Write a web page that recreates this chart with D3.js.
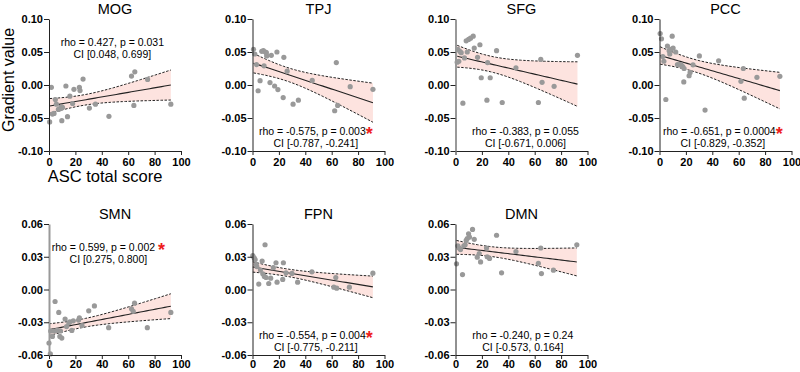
<!DOCTYPE html>
<html>
<head>
<meta charset="utf-8">
<script src="https://cdn.jsdelivr.net/npm/d3@7"></script>
<style>
  body { margin: 0; background: #fff; }
  svg { display: block; font-family: "Liberation Sans", Arial, sans-serif; }
  .tick text { font-weight: bold; font-size: 11px; fill: #000; }
</style>
</head>
<body>
<div id="chart"></div>
<script>
// ---- data ----
const xTicks = [0, 20, 40, 60, 80, 100];
const wideTicks = [-0.10, -0.05, 0, 0.05, 0.10];
const narrowTicks = [-0.06, -0.03, 0, 0.03, 0.06];

const regions = ['MOG', 'TPJ', 'SFG', 'PCC', 'SMN', 'FPN', 'DMN'];
const rhoValues = ['0.427', '-0.575', '-0.383', '-0.651', '0.599', '-0.554', '-0.240'];
const pValues = ['0.031', '0.003', '0.055', '0.0004', '0.002', '0.004', '0.24'];
const ciValues = ['[0.048, 0.699]', '[-0.787, -0.241]', '[-0.671, 0.006]', '[-0.829, -0.352]',
                  '[0.275, 0.800]', '[-0.775, -0.211]', '[-0.573, 0.164]'];
const significant = [false, true, false, true, true, true, false];

// [ASC total score, gradient value]
const mogPoints = [[0.5,-0.056],[1.8,-0.0035],[2.6,-0.044],[3.8,-0.043],[4.8,-0.022],[5.6,-0.029],
  [7.1,-0.037],[8.2,-0.036],[9.2,-0.033],[9.7,-0.054],[10.2,-0.034],[12.8,-0.0015],[14,-0.048],
  [15.8,-0.017],[17.9,-0.028],[18.9,-0.0065],[23,-0.0035],[23.5,-0.0085],[25.8,0.009],[30.6,-0.035],
  [35.2,-0.029],[45.4,-0.0475],[62.5,0.0135],[65,0.020],[64.3,-0.031],[74.7,0.0085],[92.3,-0.029]];
const tpjPoints = [[0.75,0.054],[1.75,0.047],[3,0.031],[4.25,-0.0087],[5.75,0.0066],[7,0.051],
  [8.25,0.052],[8.75,0.029],[9.75,0.050],[10.75,0.044],[10.5,0.049],[13.25,0.0036],[14.25,0.045],
  [16.75,-0.0015],[18.5,0.050],[19.25,-0.007],[23.25,-0.019],[23.75,0.042],[26.25,0.021],[30.75,-0.029],
  [34.75,-0.023],[45.25,0.007],[62.25,-0.039],[63.5,0.034],[64.5,-0.031],[74,-0.0025],[91.25,-0.0066]];
const sfgPoints = [[1.3,0.0346],[1.8,0.054],[2.5,0.036],[3.3,0.051],[4.3,0.049],[5.6,-0.0275],
  [6.8,0.041],[8.1,0.067],[8.9,0.050],[9.9,0.069],[11.4,0.071],[13.4,0.074],[14.2,0.056],[16.7,0.042],
  [18.5,0.061],[19.5,0.011],[23.8,-0.023],[24.3,0.034],[26.3,0.011],[31.1,0.052],[35.4,-0.0265],
  [45.8,0.026],[62.8,-0.0265],[64.6,0.0387],[65.6,0.004],[74.7,-0.002],[92.4,0.045]];
const pccPoints = [[0.5,0.078],[1.5,0.070],[2.5,0.043],[3.3,0.036],[4.8,-0.022],[6,0.059],
  [7.3,0.052],[7.8,0.047],[8.6,0.054],[9.6,0.074],[10.3,0.056],[12.3,0.050],[13.6,0.031],[15.1,0.031],
  [16.4,0.0305],[17.6,0.028],[18.4,0.0046],[18.6,0.025],[22.4,0.014],[23.2,0.019],[25.4,0.0305],
  [30.2,0.044],[34.5,-0.038],[44.8,0.0366],[61.7,0.0056],[63.5,0.025],[64.2,-0.020],[73.8,0.0117],[91.2,0.0132]];
const smnPoints = [[0,-0.049],[1,-0.059],[1.3,-0.038],[2.6,-0.043],[3.8,-0.038],[4.6,-0.011],
  [6.1,-0.0375],[7.4,-0.021],[8.2,-0.043],[9.7,-0.0445],[8.7,-0.038],[12.2,-0.027],[13.3,-0.034],
  [15,-0.0305],[15.8,-0.0296],[17.3,-0.0375],[18.4,-0.0287],[22.4,-0.028],[23,-0.026],[25,-0.033],
  [30.1,-0.0195],[34.4,-0.015],[45.2,-0.035],[62.5,-0.0177],[63.8,-0.020],[64.8,-0.0125],[74.5,-0.035],[92.3,-0.021]];
const fpnPoints = [[0.25,0.031],[1.25,0.029],[2,0.0275],[2.75,0.023],[3.25,0.021],[4.75,0.005],
  [6,0.0178],[7.3,0.026],[7.8,0.0144],[9,0.012],[9.5,0.041],[10.3,0.011],[12.3,0.0055],[13.8,0.0104],
  [15.8,0.020],[17.8,0.0245],[18.6,0.0067],[22.9,0.0092],[23.4,0.0245],[25.4,0.0153],[29.9,0.0147],
  [34.2,0.0067],[45,0.0162],[61.6,0.0021],[63.1,0.011],[63.8,0.0012],[73.4,0.0021],[91.2,0.015]];
const dmnPoints = [[0.75,0.0235],[1.8,0.040],[2.8,0.038],[3.8,0.0366],[5.3,0.0137],[6.3,0.040],
  [7.3,0.041],[8.1,0.045],[8.9,0.0467],[9.9,0.051],[10.6,0.048],[12.9,0.055],[14.2,0.046],[16.5,0.0296],
  [18,0.033],[19,0.0253],[23.5,0.038],[24,0.030],[25.8,0.0284],[31.1,0.0497],[34.9,0.0153],[45.8,0.0348],
  [62.8,0.024],[64.6,0.038],[65.1,0.0146],[74.2,0.0177],[91.9,0.041]];

const allPoints = [mogPoints, tpjPoints, sfgPoints, pccPoints, smnPoints, fpnPoints, dmnPoints];

class ScatterPanel {

    constructor(_svg, _points, _config = {}) {
        this.svg = _svg;
        this.points = _points;
        this.config = {
            left: _config.left,
            top: _config.top,
            width: _config.width || 132,
            height: _config.height || 132,
            yDomain: _config.yDomain,
            yTicks: _config.yTicks,
            title: _config.title,
            rho: _config.rho,
            p: _config.p,
            ci: _config.ci,
            star: _config.star,
            starGap: _config.starGap || '',
            statsAt: _config.statsAt || 'bottom',
            statsX: _config.statsX || 48,
            axisColor: _config.axisColor || '#222',
            axisWidth: _config.axisWidth || 1,
            tickPad: _config.tickPad || 3,
            tCrit: 2.06
        };
        this.initVis();
    }

    initVis() {
        let vis = this;
        let { left, top, width, height, yDomain } = vis.config;

        vis.chart = vis.svg.append('g')
            .attr('transform', `translate(${left},${top})`);

        vis.xScale = d3.scaleLinear().domain([0, 100]).range([0, width]);
        vis.yScale = d3.scaleLinear().domain(yDomain).range([height, 0]);

        vis.renderVis();
    }

    // least squares line + 95% band of the mean
    fit() {
        let vis = this;
        const n = vis.points.length;
        const xbar = d3.mean(vis.points, d => d[0]);
        const ybar = d3.mean(vis.points, d => d[1]);
        const sxx = d3.sum(vis.points, d => (d[0] - xbar) ** 2);
        const sxy = d3.sum(vis.points, d => (d[0] - xbar) * (d[1] - ybar));
        const slope = sxy / sxx;
        const intercept = ybar - slope * xbar;
        const sse = d3.sum(vis.points, d => (d[1] - intercept - slope * d[0]) ** 2);
        const s = Math.sqrt(sse / (n - 2));
        const [x0, x1] = d3.extent(vis.points, d => d[0]);
        return d3.range(0, 41).map(i => {
            const x = x0 + (x1 - x0) * i / 40;
            const yhat = intercept + slope * x;
            const half = vis.config.tCrit * s * Math.sqrt(1 / n + (x - xbar) ** 2 / sxx);
            return { x, yhat, lo: yhat - half, hi: yhat + half };
        });
    }

    renderVis() {
        let vis = this;
        let { width, height, yTicks, title, rho, p, ci, star, starGap, statsAt, statsX, axisColor, axisWidth, tickPad } = vis.config;
        const band = vis.fit();

        // Confidence band
        vis.chart.append('path')
            .datum(band)
            .attr('fill', '#fde3df')
            .attr('d', d3.area().x(d => vis.xScale(d.x)).y0(d => vis.yScale(d.lo)).y1(d => vis.yScale(d.hi)));

        ['lo', 'hi'].forEach(k => {
            vis.chart.append('path')
                .datum(band)
                .attr('fill', 'none')
                .attr('stroke', '#222')
                .attr('stroke-width', 1)
                .attr('stroke-dasharray', '2.5,1.5')
                .attr('d', d3.line().x(d => vis.xScale(d.x)).y(d => vis.yScale(d[k])));
        });

        vis.chart.append('path')
            .datum(band)
            .attr('fill', 'none')
            .attr('stroke', '#222')
            .attr('stroke-width', 1.1)
            .attr('d', d3.line().x(d => vis.xScale(d.x)).y(d => vis.yScale(d.yhat)));

        // Points
        vis.chart.selectAll('.dot')
            .data(vis.points)
            .join('circle')
            .attr('class', 'dot')
            .attr('cx', d => vis.xScale(d[0]))
            .attr('cy', d => vis.yScale(d[1]))
            .attr('r', 2.6)
            .attr('fill', '#999');

        // Axes
        const xAxis = vis.chart.append('g')
            .attr('transform', `translate(0,${height})`)
            .call(d3.axisBottom(vis.xScale).tickValues(xTicks).tickSize(4).tickSizeOuter(0).tickPadding(tickPad));
        xAxis.selectAll('path, line').attr('stroke', '#222');

        const yAxis = vis.chart.append('g')
            .call(d3.axisLeft(vis.yScale).tickValues(yTicks).tickSize(5).tickSizeOuter(0).tickPadding(1)
                .tickFormat(d => d.toFixed(2)));
        yAxis.select('.domain').attr('stroke', axisColor).attr('stroke-width', axisWidth);
        yAxis.selectAll('line').attr('stroke', '#222');
        vis.chart.selectAll('.tick text').attr('font-family', null).attr('font-size', null);

        // Title
        vis.chart.append('text')
            .attr('x', width / 2)
            .attr('y', -5)
            .attr('text-anchor', 'middle')
            .attr('font-size', 14.5)
            .text(title);

        // Stats
        const y1 = statsAt === 'top' ? 27 : height - 16;
        const rhoText = vis.chart.append('text')
            .attr('x', vis.xScale(statsX))
            .attr('y', y1)
            .attr('text-anchor', 'middle')
            .attr('font-size', 10.5)
            .text(`rho = ${rho}, p = ${p}${starGap}`);
        if (star) {
            rhoText.append('tspan')
                .attr('fill', '#ee1c1c')
                .attr('font-weight', 'bold')
                .attr('font-size', 18)
                .attr('dy', 5)
                .text('*');
        }
        vis.chart.append('text')
            .attr('x', vis.xScale(statsX))
            .attr('y', y1 + 11.5)
            .attr('text-anchor', 'middle')
            .attr('font-size', 10.5)
            .text(`CI ${ci}`);
    }
}

const svg = d3.select('#chart').append('svg')
    .attr('width', 800)
    .attr('height', 372);

const colLefts = [49, 252.5, 455.5, 659.5];
const rowTops = [19, 224];

regions.forEach((name, i) => {
    const row = i < 4 ? 0 : 1;
    const col = i < 4 ? i : i - 4;
    new ScatterPanel(svg, allPoints[i], {
        left: colLefts[col],
        top: rowTops[row],
        width: 132,
        height: row === 0 ? 132 : 131,
        yDomain: row === 0 ? [-0.1, 0.1] : [-0.06, 0.06],
        yTicks: row === 0 ? wideTicks : narrowTicks,
        title: name,
        rho: rhoValues[i],
        p: pValues[i],
        ci: ciValues[i],
        star: significant[i],
        starGap: name === 'SMN' ? ' ' : '',
        statsAt: (name === 'MOG' || name === 'SMN') ? 'top' : 'bottom',
        statsX: { MOG: 48, TPJ: 48, SFG: 53, PCC: 48, SMN: 45, FPN: 48, DMN: 51 }[name],
        axisColor: (name === 'SFG' || name === 'SMN') ? '#999' : '#222',
        axisWidth: (name === 'SFG' || name === 'SMN') ? 2 : 1,
        tickPad: row === 0 ? 3 : 1
    });
});

// Axis titles (first panel only)
svg.append('text')
    .attr('transform', 'translate(14,80) rotate(-90)')
    .attr('text-anchor', 'middle')
    .attr('font-size', 16)
    .text('Gradient value');

svg.append('text')
    .attr('x', 105)
    .attr('y', 182)
    .attr('text-anchor', 'middle')
    .attr('font-size', 16.5)
    .text('ASC total score');
</script>
</body>
</html>
